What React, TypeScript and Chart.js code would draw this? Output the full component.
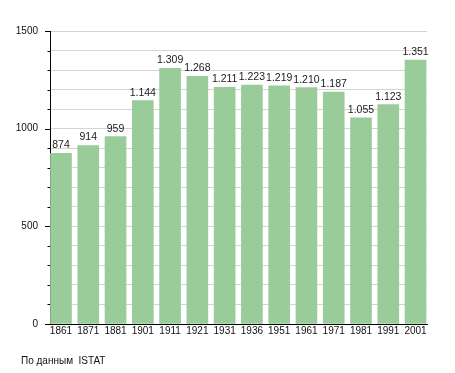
import React, { useEffect, useRef } from "react";
import { Chart, registerables } from "chart.js";

Chart.register(...registerables);

const categories = ["1861", "1871", "1881", "1901", "1911", "1921", "1931", "1936", "1951", "1961", "1971", "1981", "1991", "2001"];
const population = [874, 914, 959, 1144, 1309, 1268, 1211, 1223, 1219, 1210, 1187, 1055, 1123, 1351];
const yMajorTicks = [0, 500, 1000, 1500];
const sourceNote = "По данным  ISTAT";

const FONT = "'Liberation Sans', Arial, sans-serif";

function fmt(n: number): string {
  if (n < 1000) return String(n);
  return Math.floor(n / 1000) + "." + String(n % 1000).padStart(3, "0");
}

const valueLabels = {
  id: "valueLabels",
  afterDatasetsDraw(chart: any) {
    const ctx = chart.ctx;
    const meta = chart.getDatasetMeta(0);
    ctx.save();
    ctx.font = `10.5px ${FONT}`;
    ctx.fillStyle = "#1a1a1a";
    ctx.textAlign = "center";
    ctx.textBaseline = "alphabetic";
    meta.data.forEach((bar: any, i: number) => {
      ctx.fillText(fmt(population[i]), bar.x, bar.y - 5);
    });
    ctx.restore();
  },
};

const yTickMarks = {
  id: "yTickMarks",
  afterDraw(chart: any) {
    const ctx = chart.ctx;
    const y = chart.scales.y;
    const left = chart.chartArea.left;
    ctx.save();
    ctx.strokeStyle = "#000";
    ctx.lineWidth = 1;
    for (let v = 0; v <= 1500; v += 100) {
      const py = Math.round(y.getPixelForValue(v)) + 0.5;
      const len = yMajorTicks.includes(v) ? 5 : 2.5;
      ctx.beginPath();
      ctx.moveTo(left - len, py);
      ctx.lineTo(left, py);
      ctx.stroke();
    }
    ctx.restore();
  },
};

export default function App() {
  const ref = useRef<HTMLCanvasElement>(null);
  useEffect(() => {
    document.body.style.margin = "0";
    const chart = new Chart(ref.current!, {
      type: "bar",
      data: {
        datasets: [
          {
            data: population.map((v, i) => ({ x: i, y: v })),
            backgroundColor: "#99cc99",
            borderWidth: 0,
            barThickness: 21,
          },
        ],
      },
      options: {
        responsive: false,
        animation: false,
        layout: { padding: { left: 0, top: 31, right: 28, bottom: 0 } },
        plugins: { legend: { display: false }, tooltip: { enabled: false } },
        scales: {
          x: {
            type: "linear",
            min: -0.403,
            max: 13.42,
            offset: false,
            grid: { display: false, drawTicks: false },
            border: { color: "#000", width: 1 },
            ticks: {
              font: { family: FONT, size: 10 },
              color: "#111",
              padding: 1,
              maxRotation: 0,
              autoSkip: false,
              callback: (v: any) => categories[Number(v)] ?? "",
            },
            afterBuildTicks(scale: any) {
              scale.ticks = categories.map((_, i) => ({ value: i }));
            },
            afterFit(scale: any) {
              scale.height = 49;
            },
          },
          y: {
            min: 0,
            max: 1500,
            ticks: {
              stepSize: 100,
              font: { family: FONT, size: 10 },
              color: "#111",
              padding: 12,
              callback: (v: any) => (yMajorTicks.includes(Number(v)) ? String(v) : ""),
            },
            grid: { color: "#d4d4d4", drawTicks: false },
            border: { color: "#000", width: 1 },
            afterFit(scale: any) {
              scale.width = 50;
            },
          },
        },
      },
      plugins: [valueLabels, yTickMarks],
    });
    return () => chart.destroy();
  }, []);
  return (
    <div style={{ position: "relative", width: 455, height: 373, background: "#fff" }}>
      <canvas ref={ref} width={455} height={373} style={{ display: "block" }} />
      <div
        style={{
          position: "absolute",
          left: 21,
          top: 355,
          fontFamily: FONT,
          fontSize: 10,
          color: "#111",
          whiteSpace: "pre",
          lineHeight: "12px",
        }}
      >
        {sourceNote}
      </div>
    </div>
  );
}
